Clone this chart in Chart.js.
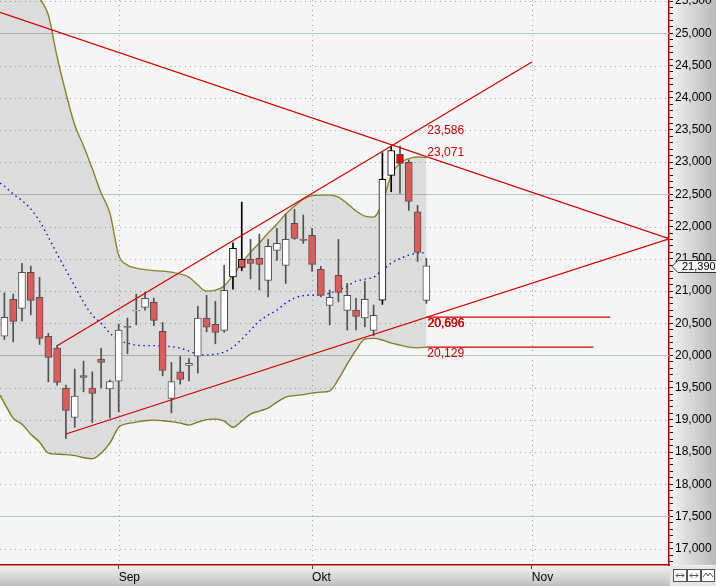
<!DOCTYPE html>
<html lang="de">
<head>
<meta charset="UTF-8">
<title>Candles</title>
<script src="https://cdn.jsdelivr.net/npm/chart.js"></script>
<style>
    * { margin: 0; padding: 0; }
    body { background: #f5f5f5; }
</style>
</head>
<body>
<canvas id="myChart" width="716" height="586"></canvas>
<script>
// daily candles (trading-day index 0..48)
const open  = [20300, 20870, 20730, 21289, 20901, 20295, 20113, 19492, 19037, 19689, 19492, 19942, 19481, 19601, 20450, 20692, 20745, 20823, 20373, 19332, 19745, 19845, 19989, 20579, 20481, 20388, 21220, 21491, 21491, 21506, 21164, 21630, 21397, 22050, 21805, 21863, 21335, 20776, 21242, 20699, 20703, 20584, 20388, 20859, 22795, 23121, 22997, 22230, 20854];
const high  = [20972, 20952, 21428, 21387, 21211, 20342, 20155, 19539, 19787, 19911, 19745, 20109, 19616, 20486, 20579, 20952, 20978, 20890, 20512, 19891, 19989, 19953, 20761, 20932, 20838, 21397, 21748, 22380, 21801, 21883, 21801, 21972, 22189, 22267, 22178, 21972, 21382, 21014, 21801, 21118, 20885, 21154, 20781, 23146, 23250, 23250, 23033, 22329, 21506];
const low   = [20248, 20211, 20537, 20630, 20171, 19590, 19539, 18711, 18882, 19435, 18960, 19497, 19031, 19124, 20025, 20475, 20703, 20460, 19683, 19109, 19554, 19606, 19725, 20366, 20180, 20360, 21029, 21314, 21189, 21019, 20910, 21475, 21118, 21801, 21739, 21304, 20910, 20475, 20832, 20393, 20397, 20444, 20304, 20792, 22540, 22515, 22251, 21459, 20807];
const close = [20590, 20528, 21289, 20854, 20264, 19969, 19581, 19146, 19368, 19658, 19410, 19891, 19596, 20393, 20435, 20703, 20885, 20543, 19767, 19596, 19627, 19876, 20579, 20439, 20357, 21009, 21661, 21366, 21428, 21413, 21692, 21739, 21801, 21817, 21785, 21413, 20932, 20901, 20978, 20932, 20605, 20870, 20621, 22733, 23180, 22981, 22391, 21599, 21390];

// bollinger bands, first value sits at the left edge (index -0.5)
const upperBand = [26775, 26651, 26371, 26107, 25828, 25554, 25284, 24632, 24073, 23576, 23255, 22896, 22520, 22210, 21557, 21402, 21355, 21332, 21317, 21309, 21293, 21262, 21216, 21092, 20998, 21014, 21076, 21247, 21433, 21604, 21744, 21899, 22039, 22194, 22318, 22427, 22481, 22489, 22489, 22458, 22357, 22241, 22163, 22147, 22365, 22800, 22986, 23056, 23079, 23071];
const midBand   = [22675, 22629, 22505, 22404, 22272, 22085, 21837, 21573, 21324, 21076, 20828, 20626, 20501, 20346, 20237, 20191, 20160, 20152, 20152, 20144, 20137, 20113, 20067, 20020, 20005, 20020, 20051, 20129, 20253, 20393, 20533, 20626, 20703, 20812, 20890, 20928, 20936, 20944, 20967, 21014, 21076, 21153, 21185, 21216, 21324, 21433, 21503, 21557, 21588, 21593];
const lowerBand = [19383, 19259, 19026, 18933, 18778, 18653, 18483, 18467, 18460, 18444, 18413, 18397, 18483, 18638, 18886, 18941, 18964, 18987, 18995, 18987, 18972, 18949, 18918, 18964, 19003, 19011, 18980, 18886, 18980, 19088, 19135, 19182, 19275, 19352, 19376, 19391, 19414, 19430, 19446, 19632, 19865, 20082, 20253, 20264, 20237, 20191, 20160, 20129, 20118, 20129];

// drawn trend lines: [index, value] pairs
const resistLine   = [[-0.5, 25326], [75.6, 21811]];
const channelTop   = [[6, 20150], [60, 24554]];
const channelBase  = [[7, 18780], [75.6, 21811]];
const levelA       = [[48, 20596], [68.9, 20596]];
const levelB       = [[48, 20129], [67, 20129]];

const levelTexts   = ['23,586', '23,071', '20,696', '20,129'];
const levelValues  = [23586, 23071, 20596, 20129];

const monthTicks  = [13, 35, 60];
const monthLabels = ['Sep', 'Okt', 'Nov'];

const candleIdx = open.map((_, i) => i);
const bandIdx = [-0.5].concat(candleIdx);

const markedBars = [26, 27, 43, 44];
const flaggedBar = 45;

const bodyColors = close.map((c, i) => i === flaggedBar ? '#ee0000' : (c >= open[i] ? '#ffffff' : '#df5b5b'));
const edgeColors = close.map((c, i) => markedBars.includes(i) ? '#000000' : '#505050');

function pts(pairs) { return pairs.map(p => ({x: p[0], y: p[1]})); }
function band(arr) { return bandIdx.map((x, k) => ({x: x, y: arr[k]})); }

const redLine = {
    type: 'line', borderColor: '#cc0000', borderWidth: 1.2,
    pointRadius: 0, fill: false, order: 1
};

const decor = {
    id: 'decor',
    beforeDraw(chart) {
        const {ctx, chartArea: a, width, height} = chart;
        ctx.save();
        ctx.fillStyle = '#f5f5f5';
        ctx.fillRect(0, 0, width, height);
        let g = ctx.createLinearGradient(a.right, 0, width, 0);
        g.addColorStop(0, '#f3f3f3');
        g.addColorStop(1, '#b8b8b8');
        ctx.fillStyle = g;
        ctx.fillRect(a.right, 0, width - a.right, a.bottom);
        g = ctx.createLinearGradient(0, a.bottom, 0, height);
        g.addColorStop(0, '#f2f2f2');
        g.addColorStop(1, '#bfbfbf');
        ctx.fillStyle = g;
        ctx.fillRect(0, a.bottom, width, height - a.bottom);
        ctx.restore();
    },
    beforeDatasetsDraw(chart) {
        const {ctx, chartArea: a, scales: {x, y}} = chart;
        ctx.save();
        ctx.lineWidth = 1;
        for (let v = 17000; v <= 25500; v += 500) {
            const py = Math.round(y.getPixelForValue(v)) + 0.5;
            const major = v % 2500 === 0;
            ctx.strokeStyle = major ? '#b5c8b3' : '#a8a8a8';
            ctx.setLineDash(major ? [] : [1, 4]);
            ctx.beginPath();
            ctx.moveTo(a.left, py);
            ctx.lineTo(a.right, py);
            ctx.stroke();
        }
        ctx.strokeStyle = '#a8a8a8';
        ctx.setLineDash([1, 4]);
        monthTicks.forEach(t => {
            const px = Math.round(x.getPixelForValue(t)) + 0.5;
            ctx.beginPath();
            ctx.moveTo(px, a.top);
            ctx.lineTo(px, a.bottom);
            ctx.stroke();
        });
        ctx.restore();
    },
    afterDatasetsDraw(chart) {
        const {ctx, scales: {x, y}} = chart;
        const offsets = [6.5, -5, 6.5, 7];
        ctx.save();
        ctx.font = '12px "Liberation Sans", Arial, sans-serif';
        ctx.fillStyle = '#cc0000';
        ctx.textBaseline = 'middle';
        const px = x.getPixelForValue(48) + 1;
        levelTexts.forEach((t, k) => {
            const py = y.getPixelForValue(levelValues[k]) + offsets[k];
            ctx.fillText(t, px, py);
            if (k === 2) ctx.fillText(t, px + 0.6, py);
        });
        ctx.restore();
    },
    afterDraw(chart) {
        const {ctx, chartArea: a, width, height, scales: {y}} = chart;
        ctx.save();
        // last price box
        const last = close[close.length - 1];
        const py = Math.round(y.getPixelForValue(last)) + 0.5;
        ctx.beginPath();
        ctx.moveTo(a.right + 3, py);
        ctx.lineTo(a.right + 9, py - 6);
        ctx.lineTo(width + 2, py - 6);
        ctx.lineTo(width + 2, py + 6);
        ctx.lineTo(a.right + 9, py + 6);
        ctx.closePath();
        ctx.fillStyle = '#f6f6f6';
        ctx.fill();
        ctx.strokeStyle = '#333';
        ctx.lineWidth = 1;
        ctx.stroke();
        ctx.fillStyle = '#000';
        ctx.font = '11px "Liberation Sans", Arial, sans-serif';
        ctx.textBaseline = 'middle';
        ctx.fillText(last.toLocaleString('en-US'), a.right + 13, py + 0.5);

        // little buttons in the corner
        ctx.fillStyle = '#e6e6e6';
        ctx.fillRect(a.right + 1, a.bottom + 1, width - a.right, height - a.bottom);
        [673, 687, 701].forEach((bx, k) => {
            ctx.fillStyle = '#fbfbfb';
            ctx.fillRect(bx + 0.5, 569.5, 13, 12);
            ctx.strokeStyle = '#555';
            ctx.strokeRect(bx + 0.5, 569.5, 13, 12);
            ctx.beginPath();
            if (k < 2) {
                ctx.moveTo(bx + 3, 575.5); ctx.lineTo(bx + 11, 575.5);
                ctx.moveTo(bx + 5, 573.5); ctx.lineTo(bx + 3, 575.5); ctx.lineTo(bx + 5, 577.5);
                ctx.moveTo(bx + 9, 573.5); ctx.lineTo(bx + 11, 575.5); ctx.lineTo(bx + 9, 577.5);
            } else {
                ctx.moveTo(bx + 2, 577); ctx.lineTo(bx + 5, 573); ctx.lineTo(bx + 7, 576);
                ctx.lineTo(bx + 9, 573); ctx.lineTo(bx + 12, 577);
            }
            ctx.stroke();
        });
        ctx.restore();
    }
};

const ctx = document.getElementById('myChart').getContext('2d');
new Chart(ctx, {
    type: 'line',
    data: {
        datasets: [
            {
                data: band(upperBand), borderColor: '#85852a', borderWidth: 1.4,
                backgroundColor: 'rgba(0,0,0,0.1)', fill: 1,
                pointRadius: 0, cubicInterpolationMode: 'monotone', order: 10
            },
            {
                data: band(lowerBand), borderColor: '#85852a', borderWidth: 1.4,
                pointRadius: 0, fill: false, cubicInterpolationMode: 'monotone', order: 10
            },
            {
                data: band(midBand), borderColor: '#1010c8', borderWidth: 1.4,
                borderDash: [1.5, 3.5], pointRadius: 0, fill: false,
                cubicInterpolationMode: 'monotone', order: 9
            },
            {
                type: 'bar',
                data: candleIdx.map(i => ({x: i, y: [low[i], high[i]]})),
                backgroundColor: edgeColors, borderWidth: 0,
                barThickness: 1, grouped: false, order: 6
            },
            {
                type: 'bar',
                data: candleIdx.map(i => ({x: i, y: [open[i], close[i]]})),
                backgroundColor: bodyColors, borderColor: edgeColors, borderWidth: 1,
                borderSkipped: false, barThickness: 7, grouped: false, order: 5
            },
            Object.assign({}, redLine, {
                data: pts(resistLine),
                pointRadius: c => c.dataIndex === 1 ? 2.5 : 0,
                pointStyle: 'rect', pointBackgroundColor: '#dd0000', pointBorderWidth: 0
            }),
            Object.assign({}, redLine, {data: pts(channelTop)}),
            Object.assign({}, redLine, {data: pts(channelBase)}),
            Object.assign({}, redLine, {data: pts(levelA)}),
            Object.assign({}, redLine, {data: pts(levelB)})
        ]
    },
    options: {
        responsive: false,
        animation: false,
        events: [],
        layout: { padding: 0, autoPadding: false },
        plugins: { legend: { display: false }, tooltip: { enabled: false } },
        scales: {
            x: {
                type: 'linear', min: -0.5, max: 75.6, offset: false,
                afterBuildTicks: s => { s.ticks = monthTicks.map(v => ({value: v})); },
                afterFit: s => { s.height = 21; s.paddingLeft = 0; s.paddingRight = 0; },
                ticks: {
                    autoSkip: false, maxRotation: 0, align: 'start', padding: 1,
                    color: '#000', font: { family: '"Liberation Sans", Arial, sans-serif', size: 12 },
                    callback: v => monthLabels[monthTicks.indexOf(v)] || ''
                },
                grid: { offset: false, drawOnChartArea: false, drawTicks: true, tickLength: 4, tickColor: '#444' },
                border: { display: true, color: '#b00000', width: 1.5 }
            },
            y: {
                type: 'linear', position: 'right', min: 16747, max: 25517,
                afterBuildTicks: s => {
                    const t = [];
                    for (let v = 16800; v <= 25500; v += 100) t.push({value: v});
                    s.ticks = t;
                },
                afterFit: s => { s.width = 47; s.paddingTop = 0; s.paddingBottom = 0; },
                ticks: {
                    autoSkip: false, padding: 2, color: '#000',
                    font: { family: '"Liberation Sans", Arial, sans-serif', size: 12 },
                    callback: v => v % 500 === 0 ? v.toLocaleString('en-US') : ''
                },
                grid: { offset: false, drawOnChartArea: false, drawTicks: true, tickLength: 4, tickColor: '#111' },
                border: { display: true, color: '#b00000', width: 1.5 }
            }
        }
    },
    plugins: [decor]
});
</script>
</body>
</html>
